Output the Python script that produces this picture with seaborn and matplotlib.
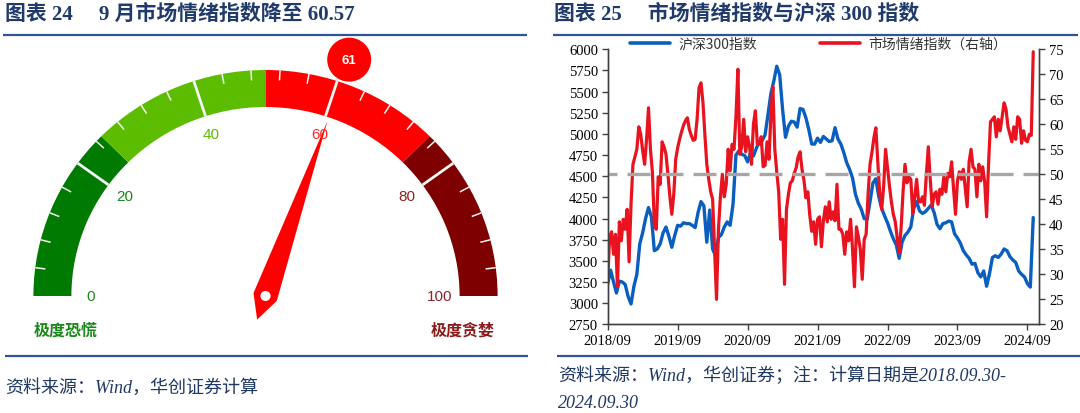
import numpy as np
import pandas as pd
import matplotlib
matplotlib.use("Agg")
import matplotlib.pyplot as plt
import seaborn as sns
from matplotlib.patches import Wedge, Circle, Polygon
from matplotlib.lines import Line2D

# ---------------- data ----------------
gauge_value = 60.57
gauge_badge = "61"
band_edges = [0, 25, 50, 75, 100]
band_colors = ["#007A00", "#5CBD00", "#FF0000", "#7E0000"]
gauge_tick_values = [0, 20, 40, 60, 80, 100]
gauge_tick_colors = ["#1A871A", "#1A871A", "#5CBD00", "#FF2424", "#8C2424", "#8C2424"]
gauge_minor_step = 4
gauge_left_label = "极度恐慌"
gauge_right_label = "极度贪婪"

year_ticks = ["2018/09", "2019/09", "2020/09", "2021/09", "2022/09", "2023/09", "2024/09"]
csi_left_ticks = list(range(2750, 6001, 250))
sent_right_ticks = list(range(20, 76, 5))

# CSI 300 (half-monthly readings, 2018/09/30 - 2024/09/30)
csi300 = [3230, 3390, 3250, 3120, 3260, 3250, 3220, 3080, 2990, 3200,
          3340, 3700, 3834, 4000, 4130, 4020, 3620, 3640, 3700, 3830,
          3900, 3790, 3660, 3800, 3920, 3910, 3950, 3940, 3940, 3920,
          3893, 4070, 4200, 4150, 3720, 4100, 3640, 3560, 3775, 3810,
          3900, 3960, 3920, 4170, 4750, 4800, 4760, 4745, 4670, 4780,
          4740, 4830, 4910, 4920, 4990, 5230, 5480, 5626, 5800, 5700,
          5290, 4960, 5090, 5150, 5140, 5080, 5300, 5290, 5190, 5050,
          4880, 4880, 4950, 4900, 4970, 4940, 4910, 4920, 5074, 4940,
          4880, 4780, 4660, 4580, 4480, 4287, 4180, 4110, 4000, 3990,
          4200, 4420, 4470, 4260, 4120, 4030, 3950, 3850, 3760, 3690,
          3530, 3720, 3800, 3840, 3900, 4120, 4200, 4090, 4060, 4080,
          4120, 4160, 4070, 3930, 3880, 3940, 3950, 3970, 3960, 3820,
          3770, 3710, 3620, 3570, 3530, 3460, 3470, 3360, 3310, 3380,
          3200, 3350, 3540, 3560, 3540, 3580, 3640, 3620, 3550, 3510,
          3480, 3380, 3340, 3310, 3230, 3190, 4011]

# Market sentiment index (three readings per month, right axis)
sentiment = [28.7, 37.5, 38.5, 34, 38, 27.5, 40.5, 36.7, 41, 39,
             43, 32.5, 44, 52, 53.5, 55, 59.5, 58, 54.7, 52,
             57, 63.3, 55, 50.5, 40, 39, 49.5, 48, 56.5, 55.5,
             54, 50, 45.5, 42, 46, 53, 55.3, 57, 58.5, 59.8,
             60.7, 61.3, 59, 57.8, 56.8, 57, 61, 67.3, 68.3, 64.5,
             58, 52, 49, 46.5, 45, 35, 25, 39, 45.5, 50,
             45.5, 48, 55, 50.7, 56, 55, 61.5, 71, 54, 55.5,
             61, 54.5, 57.5, 55.5, 52, 60, 62.7, 56, 56, 57.5,
             51.5, 51.8, 56.5, 53, 62, 67.5, 55, 50.5, 46.5, 37,
             41, 28, 43, 46, 48.3, 48.7, 50.2, 51.3, 53.5, 54.5,
             51, 48.8, 45.3, 46.5, 41.8, 38.6, 40.5, 36, 41, 41.5,
             35.5, 40.7, 43.5, 40.5, 44.5, 41, 42.5, 40.7, 48, 39,
             39, 38, 34, 38.5, 36.7, 41, 35, 27.5, 39.5, 37.5,
             35, 29, 37, 38, 46, 52, 54.4, 57.3, 59.3, 52.5,
             46.2, 43, 47.5, 55, 51.3, 47.7, 44.5, 42, 40.5, 37.2,
             34.3, 39.3, 46.5, 52, 48.3, 49.5, 49, 42.2, 45.5, 49,
             44.5, 44.5, 45.5, 43.8, 50, 55.5, 49, 43.5, 46, 46.5,
             44, 47, 46, 49.5, 46.5, 50.2, 49.5, 52.5, 47, 42,
             48.7, 50.5, 49, 51, 47.3, 43.5, 52.5, 55, 51.5, 51,
             45.5, 52, 48.7, 51.5, 48.5, 41.5, 52, 60.5, 61, 61.5,
             57.5, 61, 58.7, 61.5, 64.3, 63, 59.5, 58, 56.5, 59.5,
             57, 61.5, 61, 56.2, 58.7, 56.8, 56.5, 58, 57.8, 74.5]
neutral_level = 50

# ---------------- style ----------------
sns.set_theme(style="white")
plt.rcParams["font.family"] = ["Liberation Serif", "Noto Sans CJK SC", "DejaVu Sans"]
CJK = ["Noto Sans CJK SC", "DejaVu Sans"]
SERIF_CJK = ["Liberation Serif", "Noto Sans CJK SC", "DejaVu Sans"]
TITLE_C = "#1F3A6B"
RULE_C = "#2F5597"
SRC_C = "#1F3864"
BLUE = "#0A5EBF"
RED = "#E8131F"

W_PX, H_PX = 1080, 414
fig = plt.figure(figsize=(W_PX / 100, H_PX / 100), dpi=100)
fig.patch.set_facecolor("white")

# overlay axes in pixel units (y up)
axo = fig.add_axes([0, 0, 1, 1])
axo.set_xlim(0, W_PX)
axo.set_ylim(0, H_PX)
axo.set_axis_off()


def Y(y):
    return H_PX - y


# titles & rules
axo.text(5, Y(15), "图表 24\u3000 9 月市场情绪指数降至 60.57", family=SERIF_CJK,
         fontsize=15, fontweight="bold", color=TITLE_C, ha="left", va="center")
axo.text(554, Y(15), "图表 25\u3000 市场情绪指数与沪深 300 指数", family=SERIF_CJK,
         fontsize=15, fontweight="bold", color=TITLE_C, ha="left", va="center")
axo.plot([3, 527], [Y(35.5)] * 2, color=RULE_C, lw=1.6, solid_capstyle="butt")
axo.plot([553, 1078], [Y(35.5)] * 2, color=RULE_C, lw=1.6, solid_capstyle="butt")
axo.plot([5, 528], [Y(357)] * 2, color=RULE_C, lw=1.6, solid_capstyle="butt")
axo.plot([557, 1080], [Y(357)] * 2, color=RULE_C, lw=1.6, solid_capstyle="butt")

axo.text(5, Y(388), "资料来源：Wind，华创证券计算", family=SERIF_CJK, style="italic",
         fontsize=13, color=SRC_C, ha="left", va="center")
axo.text(558, Y(376), "资料来源：Wind，华创证券；注：计算日期是2018.09.30-", family=SERIF_CJK,
         style="italic", fontsize=13, color=SRC_C, ha="left", va="center")
axo.text(558, Y(404), "2024.09.30", family=SERIF_CJK, style="italic",
         fontsize=13, color=SRC_C, ha="left", va="center")

# ---------------- gauge (own axes, slightly wider than tall like the source) ----------------
SX = 1.027  # horizontal pixels per gauge unit
axg = fig.add_axes([0, 0, 0.5, 1])
axg.set_xlim(0, 540 / SX)
axg.set_ylim(0, H_PX)
axg.set_axis_off()
axg.set_facecolor("none")
cx, cy, R, BW = 265.5 / SX, Y(297), 226, 37


def ang(v):
    return 180 - 1.8 * v


for a, b, c in zip(band_edges[:-1], band_edges[1:], band_colors):
    axg.add_patch(Wedge((cx, cy), R, ang(b), ang(a), width=BW, facecolor=c, edgecolor="none"))

for v in np.arange(gauge_minor_step, 100, gauge_minor_step):
    th = np.deg2rad(ang(v))
    major = v in gauge_tick_values
    r0 = R - (BW if major else 10)
    axg.plot([cx + R * np.cos(th), cx + r0 * np.cos(th)],
             [cy + R * np.sin(th), cy + r0 * np.sin(th)],
             color="#F4F4F4", lw=2.0 if major else 1.1, solid_capstyle="butt")

for v, c in zip(gauge_tick_values, gauge_tick_colors):
    th = np.deg2rad(ang(v))
    axg.text(cx + 170 * np.cos(th), cy + 170 * np.sin(th), str(v), color=c,
             fontsize=11, ha="center", va="center", family=["Liberation Sans"])

th = np.deg2rad(ang(gauge_value))
d = np.array([np.cos(th), np.sin(th)])
p = np.array([-np.sin(th), np.cos(th)])
c0 = np.array([cx, cy])
needle = [c0 + 185 * d, c0 + 12 * p - 1 * d, c0 - 25 * d, c0 - 12 * p - 1 * d]
axg.add_patch(Polygon(needle, closed=True, facecolor="#FF0000", edgecolor="none"))
axg.add_patch(Circle((cx, cy), 5, facecolor="white", edgecolor="none"))
bx, by = c0 + 250 * d
axo.add_patch(Circle((bx * SX, by), 22, facecolor="#FF0000", edgecolor="none", zorder=5))
axo.text(bx * SX, by, gauge_badge, color="white", fontsize=9.5, fontweight="bold",
         ha="center", va="center", family=["Liberation Sans"], zorder=6)

axo.text(66, Y(331), gauge_left_label, color="#1A871A", fontsize=11.5, fontweight="bold",
         ha="center", va="center", family=CJK)
axo.text(463, Y(331), gauge_right_label, color="#8C1A1A", fontsize=11.5, fontweight="bold",
         ha="center", va="center", family=CJK)

# ---------------- line chart ----------------
L, Rr, T, B = 607.7, 1039.3, 50.3, 325.3
ax = fig.add_axes([L / W_PX, 1 - B / H_PX, (Rr - L) / W_PX, (B - T) / H_PX])
ax.set_facecolor("none")

df_csi = pd.DataFrame({"t": np.arange(len(csi300)) / 24, "v": csi300})
df_sent = pd.DataFrame({"t": np.arange(len(sentiment)) / 36, "v": sentiment})

sns.lineplot(data=df_csi, x="t", y="v", ax=ax, color=BLUE, lw=2.4, legend=False)
ax2 = ax.twinx()
sns.lineplot(data=df_sent, x="t", y="v", ax=ax2, color=RED, lw=2.3, legend=False)
ax2.axhline(neutral_level, color="#A6A6A6", lw=2.4, linestyle=(4.2, (6.9, 3.0)))

ax.set_xlim(0, 6.17)
ax.set_ylim(csi_left_ticks[0], csi_left_ticks[-1])
ax.set_yticks(csi_left_ticks)
ax2.set_ylim(sent_right_ticks[0], sent_right_ticks[-1])
ax2.set_yticks(sent_right_ticks)
ax.set_xticks(range(len(year_ticks)))
ax.set_xticklabels(year_ticks)
for a in (ax, ax2):
    a.set_xlabel("")
    a.set_ylabel("")
    a.spines["top"].set_visible(False)
    for s in ("left", "right", "bottom"):
        a.spines[s].set_color("#404040")
        a.spines[s].set_linewidth(1.0)
ax.tick_params(axis="both", which="both", direction="out", length=4, width=1,
               color="#404040", labelsize=10.5, pad=3, labelcolor="black",
               bottom=True, left=True)
ax2.tick_params(axis="y", direction="out", length=4, width=1, color="#404040",
                labelsize=10.5, pad=3, labelcolor="black", right=True)
for lab in ax.get_xticklabels() + ax.get_yticklabels() + ax2.get_yticklabels():
    lab.set_family(["Liberation Serif"])

handles = [Line2D([], [], color=BLUE, lw=2.6), Line2D([], [], color=RED, lw=2.6)]
fig.legend(handles, ["沪深300指数", "市场情绪指数（右轴）"], loc="upper left",
           bbox_to_anchor=(630 / W_PX, 1 - 38 / H_PX), bbox_transform=fig.transFigure,
           ncol=2, frameon=False, prop={"family": CJK, "size": 10},
           handlelength=2.9, handletextpad=0.6, columnspacing=4.5,
           borderpad=0, borderaxespad=0, labelcolor="#333333")

fig.savefig("out.png", dpi=100, facecolor="white")
